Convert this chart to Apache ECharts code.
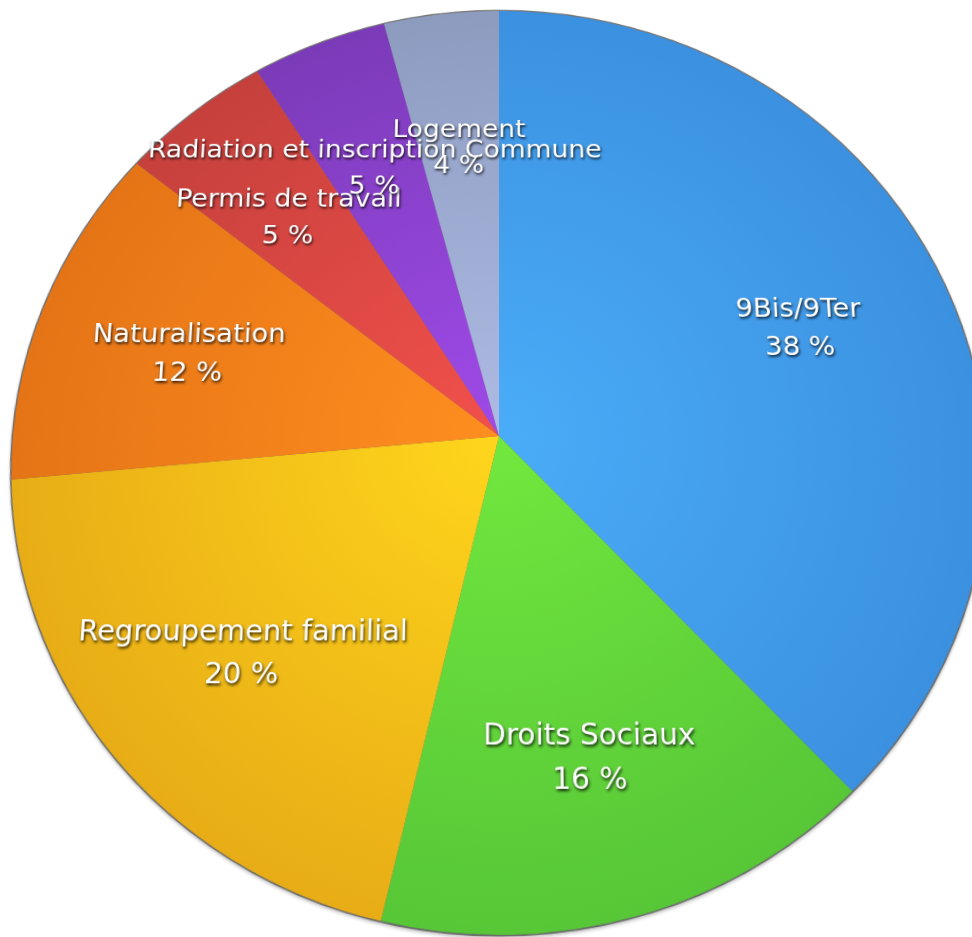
<!DOCTYPE html>
<html>
<head>
<meta charset="utf-8">
<script src="https://cdn.jsdelivr.net/npm/echarts@6/dist/echarts.min.js"></script>
<style>
  html, body { margin: 0; padding: 0; background: #ffffff; overflow: hidden; width: 972px; height: 937px; }
  #chart {
    position: absolute; left: 0; top: -100px; width: 1100px; height: 1100px;
    transform-origin: 499px 536px;
    transform: perspective(1998px) rotateX(19.2deg);
  }
</style>
</head>
<body>
<div id="chart"></div>
<script>
// Data
const categories = ['9Bis/9Ter', 'Droits Sociaux', 'Regroupement familial', 'Naturalisation',
  'Permis de travail', 'Radiation et inscription Commune', 'Logement'];
const shares = [38.0, 15.6, 19.9, 12.2, 5.4, 4.8, 4.1];

// Styles (center colour, edge colour)
const innerColors = ['#4aacf8', '#72e83e', '#ffd61c', '#ff8e20', '#f2504b', '#9f4ae8', '#adbbe4'];
const outerColors = ['#3b91e0', '#57c737', '#e8ad16', '#e57416', '#c5403c', '#7b3bb8', '#8d9bbf'];

const CX = 499, CY = 536, R = 486;

function grad(i) {
  return {
    type: 'radial', x: CX, y: CY, r: R, global: true,
    colorStops: [
      { offset: 0, color: innerColors[i] },
      { offset: 1, color: outerColors[i] }
    ]
  };
}

const pieData = categories.map((name, i) => ({
  name: name, value: shares[i], itemStyle: { color: grad(i) }
}));
const labelData = categories.map((name, i) => ({ name: name, value: shares[i] }));

const chart = echarts.init(document.getElementById('chart'), null, { renderer: 'canvas' });
chart.setOption({
  animation: false,
  backgroundColor: 'transparent',
  graphic: [{
    type: 'circle', z: 0, silent: true,
    shape: { cx: CX, cy: CY, r: R + 1.5 },
    style: { fill: 'rgba(40,40,40,0.6)', shadowBlur: 3, shadowColor: 'rgba(0,0,0,0.35)', shadowOffsetY: 2 }
  }],
  series: [
    {
      type: 'pie', z: 2, silent: true,
      center: [CX, CY], radius: [0, R],
      startAngle: 90, clockwise: true,
      label: { show: false }, labelLine: { show: false },
      itemStyle: { borderWidth: 0 },
      emphasis: { disabled: true },
      data: pieData
    },
    {
      type: 'pie', z: 3, silent: true,
      center: [CX, CY], radius: [166, R],
      startAngle: 90, clockwise: true,
      avoidLabelOverlap: false,
      labelLayout: { hideOverlap: false },
      itemStyle: { color: 'rgba(0,0,0,0)', borderWidth: 0 },
      emphasis: { disabled: true },
      labelLine: { show: false },
      label: {
        show: true, position: 'inside',
        overflow: 'none',
        offset: [0, 6],
        formatter: p => p.name + '\n' + Math.round(p.percent) + ' %',
        color: '#ffffff',
        fontFamily: 'DejaVu Sans',
        fontSize: 28,
        lineHeight: 42,
        align: 'center',
        textShadowColor: 'rgba(0,0,0,0.85)',
        textShadowBlur: 3,
        textShadowOffsetX: 1,
        textShadowOffsetY: 2
      },
      data: labelData
    }
  ]
});
</script>
</body>
</html>
